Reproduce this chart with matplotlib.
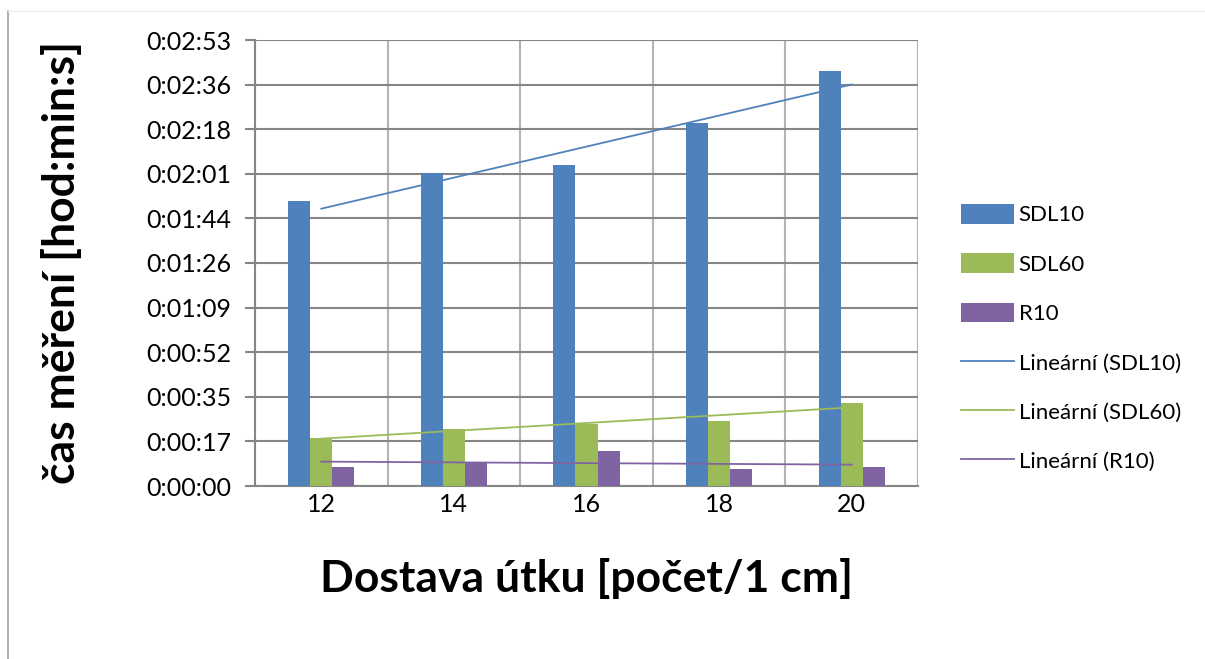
import numpy as np
import matplotlib.pyplot as plt
from matplotlib.lines import Line2D
from matplotlib.ticker import FuncFormatter, FixedLocator

plt.rcParams['font.family'] = ['Lato', 'DejaVu Sans']

# weft density (threads per cm) and measuring time in seconds
dostava = ['12', '14', '16', '18', '20']
sdl10 = [110.4, 121.2, 124.4, 140.7, 160.8]
sdl60 = [18.6, 22.1, 23.9, 25.2, 32.2]
r10 = [7.5, 9.3, 13.5, 6.6, 7.4]

series = [('SDL10', sdl10, '#4F81BD'),
          ('SDL60', sdl60, '#9BBB59'),
          ('R10', r10, '#8064A2')]

y_step = 17.28  # 0.0002 day
y_ticks = [y_step * i for i in range(11)]


def hms(val, pos=None):
    s = int(round(val))
    return '%d:%02d:%02d' % (s // 3600, (s % 3600) // 60, s % 60)


fig = plt.figure(figsize=(12.05, 6.59), dpi=100)
ax = fig.add_axes([255 / 1205, 1 - 486 / 659, 663 / 1205, 446 / 659])

x = np.arange(len(dostava))
width = 1 / 6
bar_handles = []
for i, (name, vals, col) in enumerate(series):
    h = ax.bar(x + (i - 1) * width, vals, width, color=col, label=name, zorder=3)
    bar_handles.append(h)

# linear trend lines
line_handles = []
for name, vals, col in series:
    k, q = np.polyfit(x, vals, 1)
    ln, = ax.plot(x, k * x + q, color=col, lw=1.3, zorder=4,
                  label='Lineární (%s)' % name)
    line_handles.append(ln)

ax.set_xlim(-0.5, len(dostava) - 0.5)
ax.set_ylim(0, y_ticks[-1])
ax.set_xticks(x)
ax.set_xticklabels(dostava)
ax.xaxis.set_minor_locator(FixedLocator(np.arange(-0.5, len(dostava), 1)))
ax.set_yticks(y_ticks)
ax.yaxis.set_major_formatter(FuncFormatter(hms))

ax.grid(axis='y', which='major', color='#868686', lw=1.5, zorder=0)
ax.grid(axis='x', which='minor', color='#b4b4b4', lw=1.5, zorder=0)
ax.tick_params(axis='x', which='both', length=0, labelsize=18, pad=5)
ax.tick_params(axis='y', length=7, width=1.5, color='#868686',
               labelsize=18, pad=10)
for side in ['top', 'right']:
    ax.spines[side].set_visible(False)
ax.spines['left'].set_color('#868686')
ax.spines['left'].set_linewidth(1.5)
ax.spines['bottom'].set_color('#868686')
ax.spines['bottom'].set_linewidth(1.5)

ax.set_xlabel('Dostava útku [počet/1 cm]', fontsize=32, fontweight='bold',
              labelpad=30)
ax.set_ylabel('čas měření [hod:min:s]', fontsize=32, fontweight='bold',
              labelpad=46)

fig.legend(handles=bar_handles + line_handles,
           loc='center left', bbox_to_anchor=(943 / 1205, 1 - 338 / 659),
           frameon=False, fontsize=16, handlelength=2.4, handleheight=1.0,
           labelspacing=1.25, handletextpad=0.2, borderpad=0.3)

# outer frame of the chart area
fig.add_artist(Line2D([8 / 1205, 8 / 1205], [0, 1 - 11 / 659],
                      color='#a0a0a0', lw=1.2))
fig.add_artist(Line2D([8 / 1205, 1], [1 - 11 / 659, 1 - 11 / 659],
                      color='#eeeeee', lw=1.0))

fig.savefig('out.png', dpi=100)
